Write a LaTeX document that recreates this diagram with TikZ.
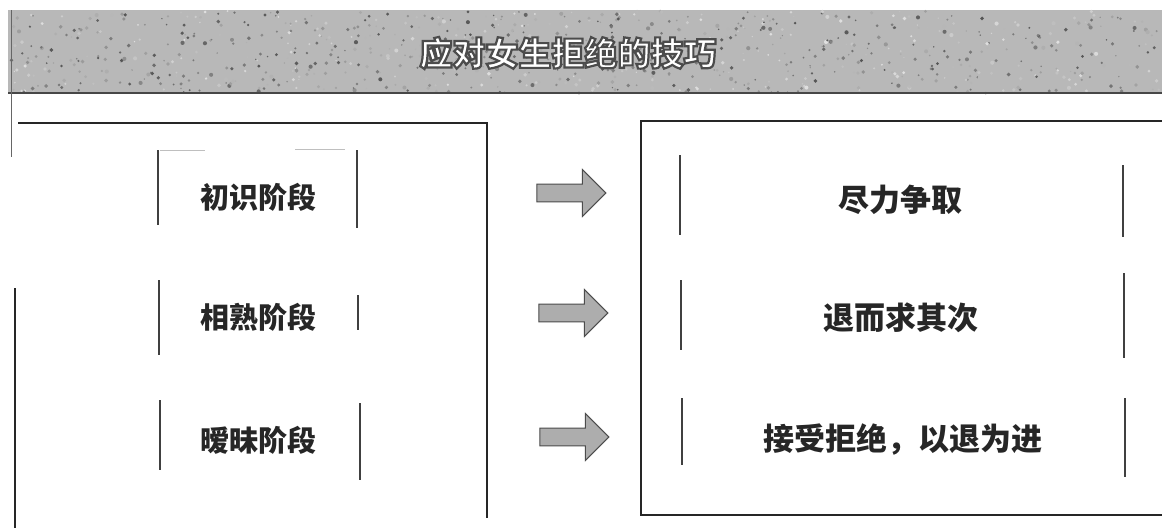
\documentclass[tikz,border=0pt]{standalone}
\usepackage{fontspec}
\newfontfamily\cjk{Noto Sans CJK SC}
\usetikzlibrary{shapes.arrows}
\newcommand\outlinedtext[1]{{\color{white}\special{pdf:literal direct 2 Tr 2.2 w 0.3 G}#1\special{pdf:literal direct 0 Tr 0 G}}}
\begin{document}
\begin{tikzpicture}[x=1pt,y=-1pt,
  frame/.style={line width=2.2pt, black!85},
  bar/.style={line width=1.3pt, black!75},
  stage/.style={font=\cjk\bfseries\fontsize{29}{32}\selectfont, text=black!85},
  tip/.style={font=\cjk\bfseries\fontsize{31}{34}\selectfont, text=black!85},
  blockarrow/.style={single arrow, draw=black!70, fill=black!32, line width=1pt,
    minimum height=69pt, minimum width=47pt, inner sep=8pt,
    single arrow head extend=14pt}]
\useasboundingbox (0,0) rectangle (1162,528);
\fill[white] (0,0) rectangle (1162,528);
% banner
\fill[black!28] (8,10) rectangle (1162,94);
\pgfmathsetseed{7}
\foreach \i in {1,...,900}{
  \pgfmathsetmacro\px{9+rnd*1152}
  \pgfmathsetmacro\py{11+rnd*82}
  \pgfmathsetmacro\g{12+rnd*55}
  \fill[black!\g] (\px,\py) circle (0.7+rnd*1.4);
}
\draw[line width=1.8pt, black!72] (8,93) -- (1162,93);
\draw[line width=1pt, black!60] (11,10) -- (11,157);
\node[font=\cjk\bfseries\fontsize{33}{35}\selectfont] (title) at (568,53)
  {\outlinedtext{应对女生拒绝的技巧}};
% left box
\draw[frame] (18,123) -- (487,123) -- (487,518);
\draw[frame] (15,288) -- (15,528);
% right box
\draw[frame] (1165,121) -- (641,121) -- (641,515) -- (1165,515);
% stage labels
\node[stage] (s1) at (258,197) {初识阶段};
\node[stage] (s2) at (258,317) {相熟阶段};
\node[stage] (s3) at (258,440) {暧昧阶段};
\draw[bar] (158,150) -- (158,225);
\draw[bar] (357,150) -- (357,228);
\draw[bar] (159,280) -- (159,355);
\draw[bar] (358,295) -- (358,330);
\draw[bar] (160,400) -- (160,470);
\draw[bar] (360,403) -- (360,480);
\draw[line width=0.8pt, black!25] (160,150) -- (205,150) (295,149) -- (345,149);
% tips
\node[tip] (t1) at (900,200) {尽力争取};
\node[tip] (t2) at (901,318) {退而求其次};
\node[tip] (t3) at (903,440) {接受拒绝，以退为进};
\draw[bar] (680,155) -- (680,235);
\draw[bar] (1123,165) -- (1123,237);
\draw[bar] (681,280) -- (681,350);
\draw[bar] (1124,273) -- (1124,358);
\draw[bar] (682,398) -- (682,465);
\draw[bar] (1125,398) -- (1125,477);
% arrows
\node[blockarrow] (a1) at (567,193) {};
\node[blockarrow] (a2) at (569,313) {};
\node[blockarrow] (a3) at (570,437) {};
\end{tikzpicture}
\end{document}
